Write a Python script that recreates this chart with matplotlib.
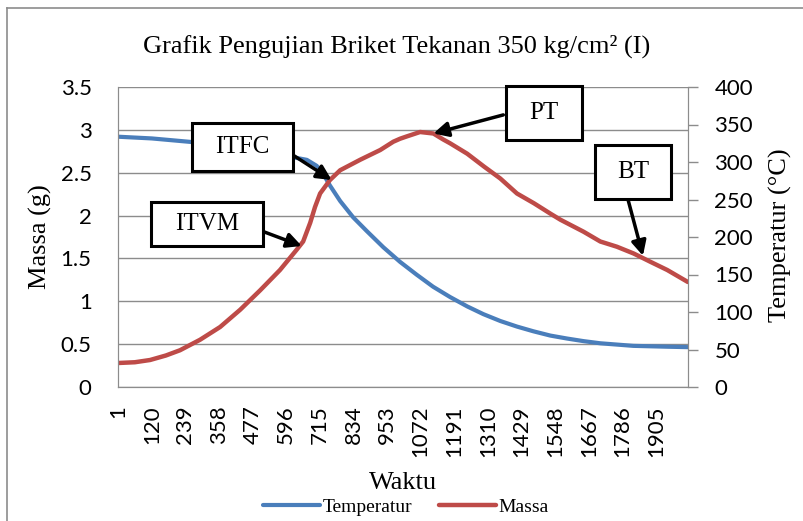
import matplotlib
matplotlib.use("Agg")
import matplotlib.pyplot as plt
from matplotlib.patches import Rectangle
from matplotlib.lines import Line2D
import numpy as np

SERIF = "Liberation Serif"
SANS = "Lato"

n_points = 2018
tick_labels = [1, 120, 239, 358, 477, 596, 715, 834, 953, 1072, 1191,
               1310, 1429, 1548, 1667, 1786, 1905]

# blue line (left axis)
waktu_biru = [1, 120, 255, 400, 540, 621, 669, 704, 728, 751, 787, 833,
              881, 940, 999, 1058, 1116, 1176, 1237, 1294, 1354, 1413,
              1471, 1531, 1591, 1649, 1708, 1825, 1945, 2018]
nilai_biru = [2.92, 2.90, 2.86, 2.81, 2.74, 2.68, 2.65, 2.58, 2.48, 2.35,
              2.17, 1.98, 1.82, 1.63, 1.46, 1.31, 1.17, 1.05, 0.94, 0.85,
              0.77, 0.705, 0.65, 0.60, 0.565, 0.535, 0.51, 0.48, 0.47, 0.465]

# red line (right axis)
waktu_merah = [1, 60, 114, 170, 220, 291, 362, 433, 504, 574, 633, 656,
               681, 698, 716, 751, 787, 858, 929, 975, 999, 1022, 1070,
               1117, 1152, 1176, 1237, 1296, 1354, 1413, 1473, 1532, 1567,
               1649, 1708, 1767, 1826, 1885, 1945, 2018]
nilai_merah = [32, 33, 36, 42, 49, 63, 80, 103, 129, 156, 183, 194,
               219, 240, 258, 276, 289, 303, 316, 327, 331, 334, 340,
               338, 330, 325, 311, 294, 278, 258, 245, 231, 223, 207,
               194, 187, 178, 167, 156, 140]

labels = [("ITFC", 0.1298, 0.72, 0.177, 0.16, (0.307, 0.773), (757, 276)),
          ("ITVM", 0.0579, 0.47, 0.1965, 0.1467, (0.255, 0.518), (651, 188)),
          ("PT", 0.6807, 0.8233, 0.1333, 0.18, (0.676, 0.907), (1117, 338)),
          ("BT", 0.8368, 0.6267, 0.1333, 0.18, (0.895, 0.623), (1859, 175))]

grey = "#8c8c8c"
blue = "#4a7ebb"
red = "#be4b48"

fig = plt.figure(figsize=(8.04, 5.21), dpi=100)
ax1 = fig.add_axes([118 / 804, 1 - 387 / 521, 570 / 804, 300 / 521])
ax2 = ax1.twinx()

l1, = ax1.plot(waktu_biru, nilai_biru, color=blue, lw=3, solid_capstyle="round",
               solid_joinstyle="round")
l2, = ax2.plot(waktu_merah, nilai_merah, color=red, lw=3.2, solid_capstyle="round",
               solid_joinstyle="round")

ax1.set_xlim(0.5, n_points + 0.5)
ax1.set_ylim(0, 3.5)
ax2.set_ylim(0, 400)
ax1.set_yticks(np.arange(0, 3.51, 0.5))
ax1.set_yticklabels(["0", "0.5", "1", "1.5", "2", "2.5", "3", "3.5"])
ax2.set_yticks(np.arange(0, 401, 50))
ax1.set_xticks(tick_labels)
ax1.set_xticklabels([str(t) for t in tick_labels], rotation=90)

ax1.grid(axis="y", color=grey, lw=1)
ax1.set_axisbelow(True)
for a in (ax1, ax2):
    for s in a.spines.values():
        s.set_color(grey)
    a.spines["top"].set_visible(False)
ax1.tick_params(axis="y", length=0, pad=19, labelsize=16)
ax1.tick_params(axis="x", length=0, pad=13, labelsize=16)
ax2.tick_params(axis="y", length=7, width=1, color=grey, pad=12, labelsize=16)
for t in ax1.get_xticklabels() + ax1.get_yticklabels() + ax2.get_yticklabels():
    t.set_fontfamily(SANS)

fig.text(397 / 804, 1 - 46 / 521, "Grafik Pengujian Briket Tekanan 350 kg/cm² (I)",
         ha="center", va="center", fontsize=19, family=SERIF)
fig.text(40 / 804, 1 - 237 / 521, "Massa (g)", rotation=90, ha="center",
         va="center", fontsize=19, family=SERIF)
fig.text(780 / 804, 1 - 235 / 521, "Temperatur (°C)", rotation=90, ha="center",
         va="center", fontsize=19, family=SERIF)
fig.text(403 / 804, 1 - 483 / 521, "Waktu", ha="center", va="center",
         fontsize=19, family=SERIF)

for name, x0, y0, w, h, start, tip in labels:
    ax2.annotate("", xy=tip, xycoords="data", xytext=start,
                 textcoords="axes fraction",
                 arrowprops=dict(arrowstyle="-|>", color="black", lw=2.5,
                                 mutation_scale=22, shrinkA=0, shrinkB=0),
                 zorder=3, annotation_clip=False)
    ax2.add_patch(Rectangle((x0, y0), w, h, transform=ax2.transAxes,
                            fc="white", ec="black", lw=2.2, zorder=4,
                            clip_on=False))
    ax2.text(x0 + w / 2, y0 + h / 2, name, transform=ax2.transAxes,
             ha="center", va="center", fontsize=18, family=SERIF, zorder=5)

fig.legend([l1, l2], ["Temperatur", "Massa"], loc="center",
           bbox_to_anchor=(406 / 804, 1 - 507 / 521), ncol=2, frameon=False,
           prop={"family": SERIF, "size": 14}, handlelength=2.9,
           handletextpad=0.15, columnspacing=1.4)

fig.add_artist(Line2D([7 / 804, 7 / 804], [0, 1 - 8 / 521], color=grey, lw=1.2))
fig.add_artist(Line2D([7 / 804, 1], [1 - 8 / 521, 1 - 8 / 521], color=grey, lw=1.2))

fig.savefig("out.png", dpi=100)
